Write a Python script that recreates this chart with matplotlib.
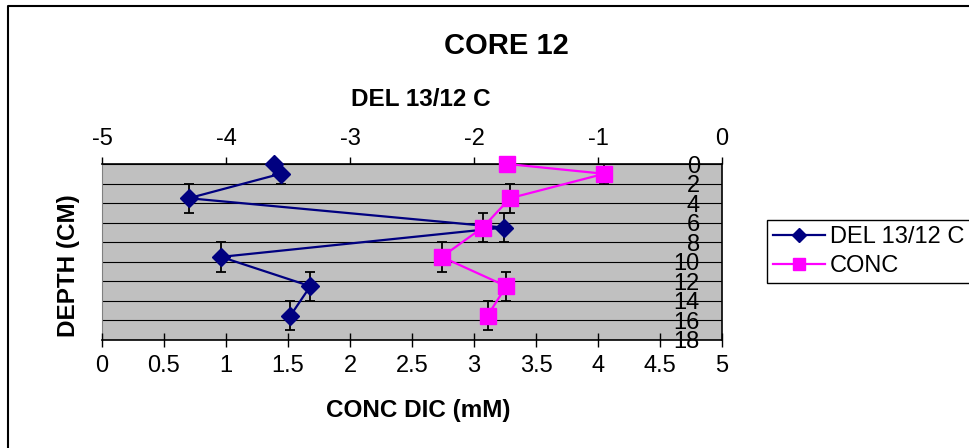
import numpy as np
import matplotlib.pyplot as plt
from matplotlib.lines import Line2D

plt.rcParams['font.family'] = ['Liberation Sans', 'DejaVu Sans']

# data
depth = [0, 1, 3.5, 6.5, 9.5, 12.5, 15.5]
depthErr = [0, 1, 1.5, 1.5, 1.5, 1.5, 1.5]
del13c = [-3.61, -3.56, -4.30, -1.76, -4.04, -3.32, -3.48]
concDic = [3.27, 4.05, 3.29, 3.07, 2.74, 3.26, 3.11]

delTicks = [-5, -4, -3, -2, -1, 0]
concTicks = [0, 0.5, 1, 1.5, 2, 2.5, 3, 3.5, 4, 4.5, 5]
concTickLabels = ['0', '0.5', '1', '1.5', '2', '2.5', '3', '3.5', '4', '4.5', '5']
depthTicks = [0, 2, 4, 6, 8, 10, 12, 14, 16, 18]

W, H = 969, 448
fig = plt.figure(figsize=(W / 100, H / 100), dpi=100)
ax = fig.add_axes([102 / W, 108 / H, 620 / W, 176 / H])
ax2 = ax.twiny()   # twiny moves ax ticks to bottom, so set up axes after this
ax.set_facecolor('#c0c0c0')

# DEL series on the top axis
ax.errorbar(del13c, depth, yerr=depthErr, fmt='none', ecolor='black', elinewidth=1.3, capsize=3.5, capthick=1.3, zorder=2)
ax.plot(del13c, depth, color='#000080', lw=1.6, marker='D', markersize=9, zorder=3, clip_on=False, label='DEL 13/12 C')
ax.set_xlim(-5, 0)
ax.set_ylim(18, 0)
ax.xaxis.tick_top()
ax.set_xticks(delTicks)
ax.set_xticklabels([str(t) for t in delTicks])
ax.tick_params(axis='x', direction='out', length=5, width=1, labelsize=17, pad=5)
ax.set_yticks(depthTicks)
ax.yaxis.tick_right()
ax.tick_params(axis='y', length=0, labelsize=17, pad=-16)
plt.setp(ax.get_yticklabels(), ha='right')
ax.yaxis.grid(True, color='black', lw=0.8)
ax.set_axisbelow(True)
for side in ['top', 'right']:
    ax.spines[side].set_linewidth(1.2)
ax.spines['left'].set_color('#808080')
ax.spines['bottom'].set_visible(False)

# CONC series on the bottom axis
ax2.errorbar(concDic, depth, yerr=depthErr, fmt='none', ecolor='black', elinewidth=1.3, capsize=3.5, capthick=1.3, zorder=2)
ax2.plot(concDic, depth, color='#ff00ff', lw=1.6, marker='s', markersize=11, zorder=3, clip_on=False, label='CONC')
ax2.set_xlim(0, 5)
ax2.xaxis.tick_bottom()
ax2.set_xticks(concTicks)
ax2.set_xticklabels(concTickLabels)
ax2.tick_params(axis='x', direction='inout', length=10, width=1, labelsize=17, pad=6)
for side in ['top', 'right', 'left']:
    ax2.spines[side].set_visible(False)
ax2.spines['bottom'].set_linewidth(1.2)

# titles
fig.text(506 / W, 1 - 46 / H, 'CORE 12', ha='center', va='center', fontsize=21, weight='bold')
fig.text(421 / W, 1 - 99 / H, 'DEL 13/12 C', ha='center', va='center', fontsize=17.5, weight='bold')
fig.text(418 / W, 1 - 410 / H, 'CONC DIC (mM)', ha='center', va='center', fontsize=17.5, weight='bold')
fig.text(69 / W, 1 - 266 / H, 'DEPTH (CM)', ha='center', va='center', fontsize=17.5, weight='bold', rotation=90)

h1, l1 = ax.get_legend_handles_labels()
h2, l2 = ax2.get_legend_handles_labels()
fig.legend(h1 + h2, l1 + l2, loc='upper left', bbox_to_anchor=(767 / W, 1 - 220 / H), fontsize=17,
           frameon=True, fancybox=False, edgecolor='black', framealpha=1, markerscale=0.75,
           handlelength=2.2, handletextpad=0.2, borderpad=0.25, labelspacing=0.3, borderaxespad=0)

# chart area border (only top and left show)
fig.add_artist(Line2D([8 / W, 8 / W, 1], [0, 1 - 6 / H, 1 - 6 / H], transform=fig.transFigure, color='black', lw=1.5))

fig.savefig('out.png', dpi=100)
